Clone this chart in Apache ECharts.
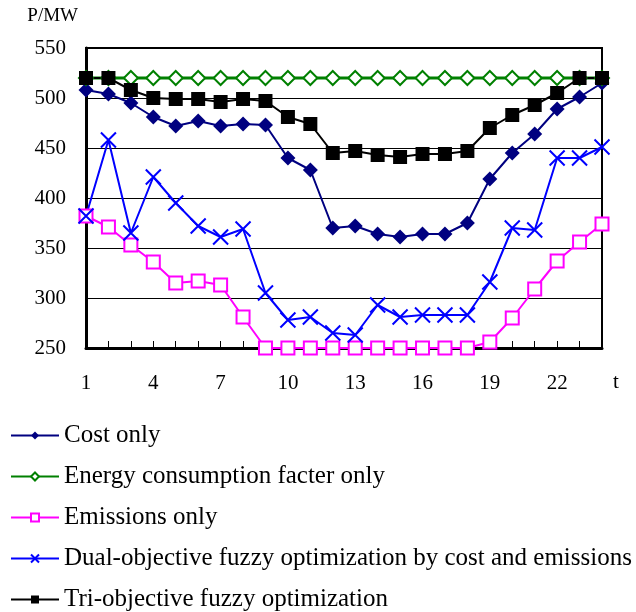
<!DOCTYPE html>
<html><head><meta charset="utf-8">
<script src="https://cdn.jsdelivr.net/npm/echarts@6/dist/echarts.min.js"></script>
<style>html,body{margin:0;padding:0;background:#fff}#c{width:636px;height:612px}</style>
</head><body><div id="c"></div>
<script>
const hours = ['1','2','3','4','5','6','7','8','9','10','11','12','13','14','15','16','17','18','19','20','21','22','23','24'];
const costOnly = [508,504,495,481,472,477,472,474,473,440,428,370,372,364,361,364,364,375,419,445,464,489,501,515];
const energyOnly = [520,520,520,520,520,520,520,520,520,520,520,520,520,520,520,520,520,520,520,520,520,520,520,520];
const emissionsOnly = [382,371,353,336,315,317,313,281,250,250,250,250,250,250,250,250,250,250,256,280,309,337,356,374];
const dualObj = [382,458,365,421,395,372,361,369,305,278,281,265,263,293,281,283,283,283,316,370,368,440,440,451];
const triObj = [520,520,508,500,499,499,496,499,497,481,474,445,447,443,441,444,444,447,470,483,493,505,520,520];
const names = ['Cost only','Energy consumption facter only','Emissions only','Dual-objective fuzzy optimization by cost and emissions','Tri-objective fuzzy optimization'];

const FONT = 'Liberation Serif';
const cross = 'path://M0,0L10,10M10,0L0,10';
const chart = echarts.init(document.getElementById('c'));
chart.setOption({
  animation: false,
  textStyle: {fontFamily: FONT},
  grid: {left: 86, right: 34, top: 48, bottom: 264, show: true, borderColor: '#000', borderWidth: 2},
  legend: {
    orient: 'vertical', left: 10, top: 423, padding: 0, itemWidth: 48, itemHeight: 10, itemGap: 16,
    textStyle: {fontFamily: FONT, fontSize: 25, color: '#000', lineHeight: 25},
    data: names
  },
  graphic: [{type: 'text', left: 613, top: 372, style: {text: 't', font: '21px "Liberation Serif"', fill: '#000'}}],
  xAxis: {
    type: 'category', data: hours, boundaryGap: false,
    axisLine: {lineStyle: {color: '#000', width: 3}},
    axisTick: {inside: true, length: 7, interval: 0, lineStyle: {color: '#000', width: 1}},
    axisLabel: {interval: 2, margin: 25, fontFamily: FONT, fontSize: 21, color: '#000'},
    splitLine: {show: false}
  },
  yAxis: {
    type: 'value', min: 250, max: 550, interval: 50,
    name: 'P/MW', nameLocation: 'end', nameGap: 22,
    nameTextStyle: {fontFamily: FONT, fontSize: 19, color: '#000', align: 'right', padding: [0, 8, 0, 0]},
    axisLine: {show: true, lineStyle: {color: '#000', width: 3}},
    axisTick: {show: false},
    axisLabel: {margin: 20, fontFamily: FONT, fontSize: 21, color: '#000'},
    splitLine: {lineStyle: {color: '#000', width: 1}}
  },
  series: [
    {name: names[0], type: 'line', data: costOnly, symbol: 'diamond', symbolSize: 15, showAllSymbol: true,
     lineStyle: {color: '#000080', width: 2}, itemStyle: {color: '#000080'}},
    {name: names[1], type: 'line', data: energyOnly, symbol: 'diamond', symbolSize: 14, showAllSymbol: true,
     lineStyle: {color: '#008000', width: 3}, itemStyle: {color: '#fff', borderColor: '#008000', borderWidth: 2}},
    {name: names[2], type: 'line', data: emissionsOnly, symbol: 'rect', symbolSize: 13, showAllSymbol: true,
     lineStyle: {color: '#ff00ff', width: 2}, itemStyle: {color: '#fff', borderColor: '#ff00ff', borderWidth: 2}},
    {name: names[3], type: 'line', data: dualObj, symbol: cross, symbolSize: 15, showAllSymbol: true,
     lineStyle: {color: '#0000ff', width: 2}, itemStyle: {color: '#0000ff', borderColor: '#0000ff', borderWidth: 2}},
    {name: names[4], type: 'line', data: triObj, symbol: 'rect', symbolSize: 14, showAllSymbol: true,
     lineStyle: {color: '#000', width: 2}, itemStyle: {color: '#000'}}
  ]
});
</script></body></html>
